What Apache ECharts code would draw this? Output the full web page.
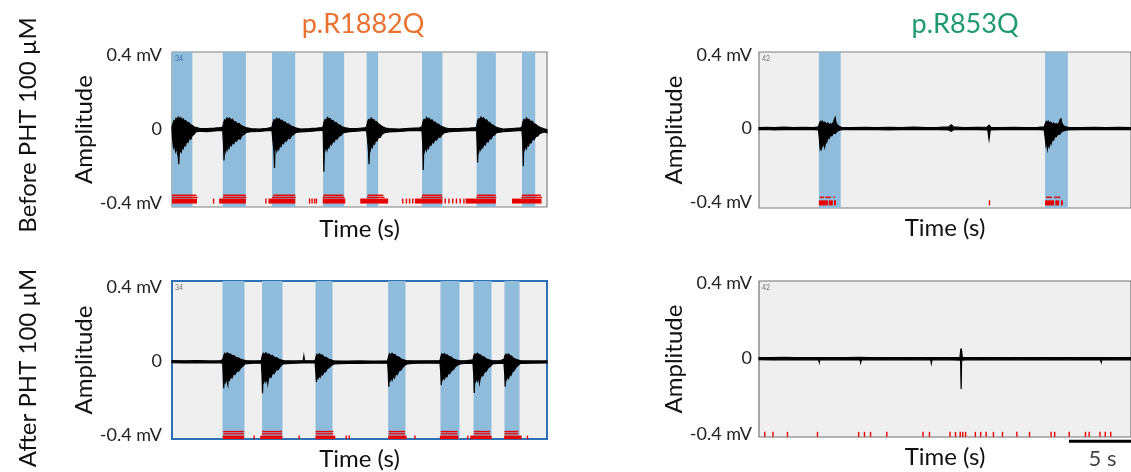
<!DOCTYPE html>
<html><head><meta charset="utf-8">
<script src="https://cdn.jsdelivr.net/npm/echarts@6/dist/echarts.min.js"></script>
<style>html,body{margin:0;padding:0;background:#fff}#c{width:1131px;height:472px}</style>
</head><body><div id="c"></div>
<script>
// ---------------- DATA ----------------
const colTitles = ['p.R1882Q', 'p.R853Q'];
const rowLabels = ['Before PHT 100 µM', 'After PHT 100 µM'];
const channelIds = ['34', '42', '34', '42'];
const yTickValues = [-0.4, 0, 0.4];
const scaleBarSeconds = [25, 30];
const scaleBarLabel = '5 s';

// burst (blue) intervals, seconds
const tlBands = [[0,1.63],[4.06,5.91],[8.0,9.86],[12.09,13.77],[15.57,16.49],[20.0,21.63],[24.37,25.91],[28.0,29.06]];
const trBands = [[4.83,6.59],[23.07,24.91]];
const blBands = [[4.04,5.8],[7.2,8.84],[11.48,12.84],[17.29,18.68],[21.48,23.0],[24.12,25.56],[26.6,27.8]];
const brBands = [];

// trace envelopes [time s, mV]
const tlUpper = [
[0,0.012],[0.08,0.03],[0.16,0.045],[0.24,0.04],[0.32,0.058],[0.4,0.05],[0.5,0.065],[0.6,0.055],[0.7,0.062],[0.8,0.05],[0.9,0.055],[1.0,0.042],[1.1,0.046],[1.22,0.034],[1.34,0.036],[1.46,0.024],[1.6,0.02],[1.8,0.01],[2.2,0.004],[2.8,0.003],[3.4,0.005],[3.9,0.008],
[4.06,0.01],[4.14,0.035],[4.22,0.05],[4.3,0.045],[4.4,0.06],[4.5,0.052],[4.6,0.06],[4.72,0.048],[4.84,0.052],[4.96,0.038],[5.08,0.04],[5.22,0.028],[5.36,0.03],[5.5,0.02],[5.7,0.014],[5.9,0.008],[6.3,0.002],[7.0,0.0],[7.6,0.004],[7.95,0.008],
[8.0,0.012],[8.08,0.035],[8.16,0.05],[8.26,0.044],[8.36,0.058],[8.46,0.05],[8.56,0.056],[8.68,0.045],[8.8,0.048],[8.92,0.036],[9.04,0.038],[9.18,0.026],[9.32,0.028],[9.48,0.018],[9.7,0.012],[9.9,0.006],[10.3,0.0],[11.0,0.002],[11.6,0.005],[12.0,0.008],
[12.09,0.012],[12.17,0.04],[12.25,0.052],[12.35,0.046],[12.45,0.062],[12.55,0.052],[12.65,0.056],[12.77,0.044],[12.89,0.046],[13.01,0.034],[13.13,0.036],[13.27,0.024],[13.42,0.022],[13.6,0.012],[13.8,0.008],[14.2,0.002],[14.8,0.003],[15.4,0.006],
[15.57,0.012],[15.65,0.04],[15.73,0.052],[15.83,0.046],[15.93,0.06],[16.03,0.05],[16.13,0.052],[16.25,0.04],[16.37,0.04],[16.5,0.028],[16.65,0.022],[16.85,0.012],[17.1,0.005],[17.4,0.002],[18.2,0.0],[19.0,0.004],[19.8,0.007],
[20.0,0.012],[20.08,0.04],[20.16,0.052],[20.26,0.046],[20.36,0.062],[20.46,0.052],[20.56,0.058],[20.68,0.046],[20.8,0.05],[20.92,0.036],[21.04,0.038],[21.18,0.026],[21.32,0.026],[21.48,0.016],[21.65,0.012],[21.85,0.006],[22.1,0.002],[23.0,0.002],[23.8,0.005],[24.3,0.008],
[24.37,0.012],[24.45,0.045],[24.53,0.056],[24.63,0.05],[24.73,0.065],[24.83,0.055],[24.93,0.06],[25.05,0.047],[25.17,0.05],[25.29,0.036],[25.41,0.036],[25.55,0.024],[25.7,0.02],[25.9,0.01],[26.1,0.006],[26.5,0.0],[27.2,0.003],[27.9,0.007],
[28.0,0.012],[28.08,0.04],[28.16,0.052],[28.26,0.046],[28.36,0.06],[28.46,0.05],[28.56,0.052],[28.68,0.04],[28.8,0.042],[28.94,0.03],[29.08,0.026],[29.25,0.016],[29.45,0.01],[29.7,0.003],[30,-0.004]];
const tlLower = [
[0,-0.008],[0.06,-0.06],[0.12,-0.1],[0.2,-0.085],[0.28,-0.12],[0.36,-0.1],[0.44,-0.13],[0.5,-0.15],[0.54,-0.19],[0.58,-0.13],[0.66,-0.115],[0.74,-0.125],[0.82,-0.095],[0.9,-0.105],[1.0,-0.08],[1.08,-0.09],[1.18,-0.065],[1.28,-0.072],[1.38,-0.05],[1.5,-0.055],[1.62,-0.035],[1.75,-0.03],[1.9,-0.016],[2.2,-0.012],[2.8,-0.014],[3.4,-0.01],[3.9,-0.007],
[4.06,-0.01],[4.12,-0.08],[4.16,-0.17],[4.2,-0.1],[4.26,-0.12],[4.32,-0.095],[4.4,-0.115],[4.48,-0.09],[4.56,-0.105],[4.65,-0.08],[4.75,-0.09],[4.85,-0.07],[4.95,-0.078],[5.05,-0.06],[5.15,-0.066],[5.3,-0.05],[5.45,-0.055],[5.6,-0.035],[5.75,-0.03],[5.95,-0.018],[6.3,-0.014],[7.0,-0.013],[7.6,-0.009],[7.95,-0.007],
[8.0,-0.01],[8.08,-0.07],[8.16,-0.12],[8.2,-0.21],[8.24,-0.11],[8.3,-0.1],[8.38,-0.12],[8.46,-0.095],[8.54,-0.11],[8.62,-0.085],[8.72,-0.095],[8.82,-0.072],[8.92,-0.08],[9.02,-0.06],[9.14,-0.066],[9.28,-0.048],[9.42,-0.052],[9.58,-0.035],[9.74,-0.03],[9.9,-0.018],[10.3,-0.015],[11.0,-0.013],[11.6,-0.009],[12.0,-0.007],
[12.09,-0.01],[12.11,-0.06],[12.15,-0.23],[12.19,-0.09],[12.25,-0.11],[12.32,-0.09],[12.4,-0.115],[12.48,-0.088],[12.56,-0.1],[12.66,-0.075],[12.76,-0.085],[12.86,-0.065],[12.96,-0.07],[13.08,-0.05],[13.2,-0.055],[13.35,-0.038],[13.5,-0.035],[13.7,-0.02],[14.2,-0.014],[14.8,-0.012],[15.4,-0.008],
[15.57,-0.01],[15.65,-0.06],[15.72,-0.12],[15.76,-0.19],[15.8,-0.1],[15.86,-0.115],[15.94,-0.09],[16.02,-0.1],[16.1,-0.075],[16.2,-0.082],[16.3,-0.06],[16.4,-0.065],[16.52,-0.045],[16.65,-0.045],[16.8,-0.028],[17.0,-0.02],[17.4,-0.015],[18.2,-0.013],[19.0,-0.009],[19.8,-0.007],
[20.0,-0.01],[20.06,-0.08],[20.1,-0.22],[20.14,-0.1],[20.2,-0.12],[20.28,-0.095],[20.36,-0.115],[20.44,-0.09],[20.52,-0.105],[20.62,-0.08],[20.72,-0.088],[20.82,-0.068],[20.92,-0.075],[21.04,-0.055],[21.16,-0.06],[21.3,-0.043],[21.45,-0.045],[21.6,-0.03],[21.8,-0.02],[22.2,-0.014],[23.0,-0.012],[23.8,-0.009],[24.3,-0.007],
[24.37,-0.01],[24.41,-0.08],[24.45,-0.18],[24.49,-0.1],[24.55,-0.12],[24.62,-0.095],[24.7,-0.112],[24.78,-0.09],[24.86,-0.1],[24.96,-0.078],[25.06,-0.086],[25.16,-0.065],[25.28,-0.07],[25.4,-0.05],[25.52,-0.054],[25.66,-0.036],[25.8,-0.032],[25.95,-0.02],[26.5,-0.014],[27.2,-0.011],[27.9,-0.007],
[28.0,-0.01],[28.06,-0.07],[28.1,-0.2],[28.14,-0.09],[28.2,-0.11],[28.28,-0.09],[28.36,-0.105],[28.44,-0.08],[28.52,-0.09],[28.62,-0.07],[28.72,-0.075],[28.84,-0.055],[28.96,-0.058],[29.1,-0.04],[29.25,-0.038],[29.4,-0.025],[29.6,-0.02],[29.8,-0.016],[30,-0.02]];

const trUpper = [[0,0.005],[0.6,0.006],[1.2,0.004],[2.0,0.007],[2.8,0.005],[3.6,0.006],[4.4,0.005],
[4.8,0.008],[4.86,0.025],[4.94,0.038],[5.02,0.03],[5.1,0.04],[5.2,0.028],[5.3,0.034],[5.42,0.024],[5.54,0.03],[5.66,0.02],[5.78,0.026],[5.9,0.02],[6.0,0.035],[6.08,0.05],[6.14,0.06],[6.2,0.035],[6.3,0.02],[6.45,0.012],[6.65,0.006],
[7.5,0.005],[8.5,0.006],[9.5,0.004],[10.5,0.006],[11.5,0.005],[12.5,0.007],[13.5,0.005],[14.5,0.006],[15.3,0.008],[15.5,0.02],[15.7,0.008],[16.5,0.005],[17.5,0.006],[18.4,0.007],[18.55,0.018],[18.7,0.006],[19.5,0.005],[20.5,0.006],[21.5,0.005],[22.5,0.006],
[23.0,0.008],[23.08,0.025],[23.16,0.038],[23.24,0.03],[23.32,0.04],[23.42,0.028],[23.52,0.034],[23.64,0.024],[23.76,0.03],[23.88,0.022],[24.0,0.026],[24.12,0.02],[24.22,0.035],[24.3,0.05],[24.36,0.052],[24.42,0.03],[24.55,0.015],[24.75,0.008],[24.95,0.006],
[26,0.005],[27,0.006],[28,0.004],[29,0.006],[30,0.005]];
const trLower = [[0,-0.006],[0.6,-0.005],[1.2,-0.008],[2.0,-0.006],[2.8,-0.007],[3.6,-0.005],[4.4,-0.006],
[4.8,-0.008],[4.86,-0.05],[4.92,-0.1],[4.97,-0.075],[5.02,-0.12],[5.08,-0.085],[5.15,-0.095],[5.22,-0.07],[5.3,-0.1],[5.38,-0.065],[5.46,-0.075],[5.55,-0.05],[5.65,-0.055],[5.76,-0.038],[5.88,-0.04],[6.0,-0.025],[6.15,-0.028],[6.3,-0.015],[6.5,-0.01],[6.7,-0.007],
[7.5,-0.006],[8.5,-0.007],[9.5,-0.006],[10.5,-0.008],[11.5,-0.006],[12.5,-0.005],[13.5,-0.007],[14.5,-0.006],[15.3,-0.008],[15.5,-0.015],[15.7,-0.007],[16.5,-0.006],[17.5,-0.007],[18.45,-0.008],[18.55,-0.06],[18.65,-0.008],[19.5,-0.006],[20.5,-0.007],[21.5,-0.006],[22.5,-0.007],
[23.0,-0.008],[23.08,-0.05],[23.14,-0.09],[23.2,-0.07],[23.26,-0.11],[23.32,-0.08],[23.4,-0.1],[23.48,-0.07],[23.56,-0.085],[23.65,-0.06],[23.75,-0.065],[23.86,-0.045],[23.98,-0.045],[24.1,-0.03],[24.25,-0.032],[24.4,-0.018],[24.6,-0.012],[24.85,-0.008],
[26,-0.006],[27,-0.007],[28,-0.006],[29,-0.007],[30,-0.006]];

const blUpper = [[0,0.006],[1.0,0.005],[2.0,0.006],[3.0,0.004],[3.8,0.005],
[4.06,0.01],[4.14,0.032],[4.22,0.045],[4.32,0.038],[4.42,0.048],[4.54,0.04],[4.66,0.042],[4.8,0.032],[4.94,0.034],[5.1,0.024],[5.26,0.022],[5.45,0.014],[5.65,0.01],[5.9,0.006],[6.5,0.004],
[7.15,0.006],[7.22,0.032],[7.3,0.045],[7.4,0.038],[7.5,0.048],[7.62,0.04],[7.74,0.042],[7.88,0.032],[8.02,0.034],[8.18,0.024],[8.34,0.022],[8.52,0.014],[8.7,0.01],[8.95,0.005],
[9.8,0.004],[10.5,0.006],[10.55,0.03],[10.6,0.006],
[11.45,0.005],[11.52,0.025],[11.6,0.04],[11.7,0.034],[11.8,0.042],[11.92,0.035],[12.04,0.035],[12.18,0.025],[12.32,0.024],[12.5,0.014],[12.7,0.01],[12.95,0.005],
[14,0.003],[15,0.004],[16,0.003],
[17.25,0.005],[17.32,0.027],[17.4,0.042],[17.5,0.036],[17.6,0.046],[17.72,0.038],[17.84,0.038],[17.98,0.027],[18.12,0.026],[18.3,0.016],[18.5,0.01],[18.75,0.006],
[19.5,0.004],[20.5,0.005],
[21.44,0.006],[21.5,0.024],[21.58,0.042],[21.68,0.036],[21.78,0.044],[21.9,0.036],[22.02,0.037],[22.16,0.027],[22.3,0.026],[22.48,0.016],[22.7,0.01],[23.0,0.005],
[23.6,0.006],
[24.08,0.01],[24.15,0.032],[24.23,0.042],[24.33,0.036],[24.43,0.046],[24.55,0.038],[24.67,0.037],[24.81,0.027],[24.95,0.026],[25.12,0.016],[25.35,0.01],[25.6,0.006],
[26.2,0.005],
[26.56,0.012],[26.63,0.032],[26.71,0.04],[26.81,0.034],[26.91,0.042],[27.03,0.033],[27.15,0.03],[27.3,0.02],[27.5,0.012],[27.9,0.005],
[28.8,0.004],[30,0.004]];
const blLower = [[0,-0.006],[1.0,-0.007],[2.0,-0.005],[3.0,-0.007],[3.8,-0.006],
[4.06,-0.01],[4.1,-0.08],[4.14,-0.143],[4.18,-0.095],[4.25,-0.112],[4.33,-0.09],[4.41,-0.108],[4.47,-0.125],[4.5,-0.085],[4.6,-0.1],[4.7,-0.078],[4.8,-0.088],[4.92,-0.064],[5.04,-0.07],[5.18,-0.05],[5.32,-0.052],[5.48,-0.035],[5.65,-0.025],[5.85,-0.012],[6.5,-0.008],
[7.15,-0.008],[7.2,-0.07],[7.24,-0.17],[7.28,-0.105],[7.34,-0.112],[7.42,-0.092],[7.5,-0.11],[7.6,-0.088],[7.66,-0.12],[7.7,-0.1],[7.8,-0.078],[7.92,-0.085],[8.04,-0.062],[8.17,-0.065],[8.32,-0.045],[8.48,-0.044],[8.65,-0.027],[8.88,-0.012],
[9.8,-0.008],[10.5,-0.007],
[11.45,-0.007],[11.5,-0.05],[11.55,-0.11],[11.6,-0.075],[11.68,-0.09],[11.76,-0.074],[11.85,-0.085],[11.95,-0.066],[12.05,-0.072],[12.16,-0.054],[12.28,-0.055],[12.42,-0.038],[12.58,-0.032],[12.75,-0.02],[12.95,-0.012],
[14,-0.01],[15,-0.009],[16,-0.008],
[17.25,-0.008],[17.3,-0.06],[17.34,-0.135],[17.38,-0.09],[17.45,-0.102],[17.53,-0.082],[17.61,-0.1],[17.7,-0.077],[17.8,-0.088],[17.9,-0.066],[18.02,-0.07],[18.15,-0.05],[18.3,-0.046],[18.46,-0.03],[18.62,-0.02],[18.8,-0.012],
[19.5,-0.008],[20.5,-0.007],
[21.44,-0.008],[21.5,-0.06],[21.54,-0.127],[21.58,-0.085],[21.65,-0.097],[21.73,-0.08],[21.81,-0.093],[21.9,-0.073],[22.0,-0.082],[22.1,-0.062],[22.22,-0.065],[22.36,-0.047],[22.5,-0.044],[22.66,-0.028],[22.85,-0.018],[23.05,-0.012],
[23.6,-0.008],
[24.08,-0.01],[24.14,-0.07],[24.18,-0.169],[24.22,-0.1],[24.29,-0.108],[24.37,-0.088],[24.45,-0.105],[24.54,-0.082],[24.6,-0.115],[24.64,-0.096],[24.74,-0.074],[24.86,-0.077],[24.99,-0.056],[25.13,-0.053],[25.28,-0.035],[25.45,-0.026],[25.65,-0.012],
[26.2,-0.008],
[26.56,-0.01],[26.62,-0.07],[26.66,-0.135],[26.7,-0.085],[26.77,-0.097],[26.85,-0.077],[26.93,-0.09],[27.02,-0.068],[27.12,-0.074],[27.23,-0.054],[27.35,-0.05],[27.5,-0.032],[27.65,-0.023],[27.85,-0.01],
[28.8,-0.008],[30,-0.007]];

const brUpper = [[0,0.006],[1,0.005],[2,0.007],[3,0.005],[4,0.006],[5,0.005],[6,0.006],[7,0.005],[8,0.007],[9,0.005],[10,0.006],[11,0.005],[12,0.006],[13,0.005],[14,0.006],[15,0.005],[16.2,0.006],[16.28,0.05],[16.32,0.05],[16.4,0.006],[17,0.005],[18,0.006],[19,0.005],[20,0.006],[21,0.005],[22,0.006],[23,0.005],[24,0.006],[25,0.005],[26,0.006],[27,0.005],[28,0.006],[29,0.005],[30,0.006]];
const brLower = [[0,-0.006],[1,-0.007],[2,-0.006],[3,-0.007],[4,-0.006],[4.82,-0.007],[4.86,-0.02],[4.9,-0.007],[6,-0.006],[7,-0.007],[8.15,-0.007],[8.2,-0.022],[8.25,-0.007],[9,-0.006],[10,-0.007],[11,-0.006],[12,-0.007],[13,-0.006],[13.85,-0.007],[13.9,-0.025],[13.95,-0.007],[15,-0.006],[16.26,-0.008],[16.3,-0.16],[16.34,-0.008],[17,-0.006],[18,-0.007],[19,-0.006],[20,-0.007],[21,-0.006],[22,-0.007],[23,-0.006],[24,-0.007],[25,-0.006],[26,-0.007],[27.55,-0.007],[27.6,-0.02],[27.65,-0.007],[29,-0.006],[30,-0.007]];

// spike raster segments [start s, end s]
const tlRasterThick = [[0,2.0],[3.27,3.33],[3.77,5.91],[7.46,7.52],[7.72,9.86],[10.95,11.0],[11.15,11.2],[11.35,11.4],[11.5,11.55],[12.06,13.86],[15.06,17.29],[18.4,18.45],[18.7,18.75],[18.95,19.0],[19.2,19.25],[19.43,21.63],[21.8,21.85],[22.1,22.15],[22.4,22.45],[22.7,22.75],[23.0,23.05],[23.3,23.35],[23.5,25.91],[27.2,29.56]];
const tlRasterThinA = [[0,1.95],[4.1,5.9],[8.1,9.85],[12.1,13.7],[15.65,16.9],[20.0,21.6],[24.4,25.9],[28.0,29.5]];
const tlRasterThinB = [[0,2.05],[4.06,5.95],[8.0,9.9],[12.05,13.8],[15.6,17.0],[19.95,21.65],[24.35,25.95],[27.95,29.6]];
const trRasterThick = [[4.83,5.55],[5.62,5.95],[6.05,6.2],[18.53,18.58],[23.07,23.8],[23.9,24.2],[24.35,24.5]];
const trRasterThin = [[4.9,5.25],[5.35,5.8],[6.0,6.1],[23.15,23.6],[23.8,24.3]];
const blRasterThick = [[4.06,5.77],[6.52,6.56],[7.06,8.83],[10.12,10.16],[11.48,13.06],[13.88,13.92],[14.12,14.16],[17.29,18.77],[19.38,19.42],[21.43,22.91],[23.61,23.65],[23.86,25.57],[26.57,27.97],[28.38,28.42]];
const blRasterThin = [[4.1,5.75],[7.2,8.8],[11.5,12.9],[17.35,18.65],[21.5,22.85],[24.15,25.45],[26.6,27.7]];
const brRasterTicks = [0.41,1.07,2.24,4.66,7.98,8.45,8.94,10.25,13.17,13.69,15.35,15.79,16.17,16.37,16.6,17.39,17.82,18.26,18.85,19.58,20.74,21.76,23.5,23.79,24.96,26.27,26.57,27.44,27.87,28.31];

// ---------------- CHART ----------------
const FONT = 'Lato, "Open Sans", sans-serif';
const grids = [
  {left:172, top:52, width:375, height:155},
  {left:759, top:52, width:375, height:156},
  {left:172, top:281, width:375, height:158},
  {left:759, top:281, width:375, height:156}
];
const yRanges = [[-0.42,0.415],[-0.433,0.416],[-0.418,0.436],[-0.414,0.41]];
const borderColors = ['#808080','#808080','#2f6fb3','#707070'];
const borderWidths = [1.2, 1.2, 2, 1.2];
const BAND = '#8fbcdb', RED = '#e60000';

function fmt(v){ return Math.abs(v) < 1e-9 ? '0' : v.toFixed(1) + ' mV'; }

function bandSeries(gi, bands){
  const yr = yRanges[gi];
  return {type:'custom', xAxisIndex:gi, yAxisIndex:gi, data:bands, z:1, silent:true,
    renderItem:function(p, api){
      const a = api.coord([api.value(0), yr[1]]), b = api.coord([api.value(1), yr[0]]);
      return {type:'rect', shape:{x:a[0], y:a[1], width:b[0]-a[0], height:b[1]-a[1]}, style:{fill:BAND}};
    }};
}
function envSeries(gi, upper, lower){
  return {type:'custom', xAxisIndex:gi, yAxisIndex:gi, data:[[0,0]], z:3, silent:true,
    renderItem:function(p, api){
      const pts = [];
      upper.forEach(q => pts.push(api.coord(q)));
      for (let i = lower.length-1; i >= 0; i--) pts.push(api.coord(lower[i]));
      return {type:'polygon', shape:{points:pts}, style:{fill:'#000', stroke:'#000', lineWidth:1.2}};
    }};
}
function rasterSeries(gi, segs, yVal, px){
  return {type:'custom', xAxisIndex:gi, yAxisIndex:gi, data:segs, z:4, silent:true,
    renderItem:function(p, api){
      const a = api.coord([api.value(0), yVal]), b = api.coord([api.value(1), yVal]);
      return {type:'rect', shape:{x:a[0], y:a[1]-px/2, width:Math.max(b[0]-a[0],1.4), height:px}, style:{fill:RED}};
    }};
}

const xAxes = grids.map((g,i)=>({gridIndex:i, type:'value', min:0, max:30,
  axisLine:{show:false}, axisTick:{show:false}, axisLabel:{show:false}, splitLine:{show:false},
  name:'Time (s)', nameLocation:'middle', nameGap:(i===0? 10:8),
  nameTextStyle:{fontSize:24, color:'#111', fontFamily:FONT}}));
const yAxes = grids.map((g,i)=>({gridIndex:i, type:'value', min:yRanges[i][0], max:yRanges[i][1],
  axisLine:{show:false}, axisTick:{show:false}, splitLine:{show:false},
  axisLabel:{customValues:yTickValues, formatter:fmt, fontSize:18, color:'#222', margin:(i%2? 7:10), fontFamily:FONT},
  name:'Amplitude', nameLocation:'middle', nameGap:(i%2? 63:55),
  nameTextStyle:{fontSize:24, color:'#111', fontFamily:FONT}}));

const series = [
  bandSeries(0, tlBands), bandSeries(1, trBands), bandSeries(2, blBands), bandSeries(3, brBands),
  envSeries(0, tlUpper, tlLower), envSeries(1, trUpper, trLower), envSeries(2, blUpper, blLower), envSeries(3, brUpper, brLower),
  rasterSeries(0, tlRasterThick, -0.388, 5), rasterSeries(0, tlRasterThinA, -0.357, 1.5), rasterSeries(0, tlRasterThinB, -0.368, 1.3),
  rasterSeries(1, trRasterThick, -0.405, 5), rasterSeries(1, trRasterThin, -0.375, 1.5),
  rasterSeries(2, blRasterThick, -0.409, 3.5), rasterSeries(2, blRasterThin, -0.378, 1.5), rasterSeries(2, blRasterThin, -0.39, 1.3),
  rasterSeries(3, brRasterTicks.map(t=>[t,t]), -0.4, 5),
  {type:'line', xAxisIndex:3, yAxisIndex:3, clip:false, silent:true, symbol:'none', z:6,
   lineStyle:{color:'#000', width:3}, data:scaleBarSeconds.map(t=>[t,-0.437])},
  {type:'scatter', xAxisIndex:3, yAxisIndex:3, clip:false, silent:true, symbolSize:0, z:6,
   data:[[(scaleBarSeconds[0]+scaleBarSeconds[1])/2 + 0.2, -0.53]],
   label:{show:true, position:'inside', formatter:scaleBarLabel, fontSize:22, color:'#111', fontFamily:FONT}}
];

const titles = [
  {text:colTitles[0], left:358, top:6, textAlign:'center', textStyle:{fontSize:27, fontWeight:'normal', color:'#ea7230', fontFamily:FONT}},
  {text:colTitles[1], left:960, top:6, textAlign:'center', textStyle:{fontSize:27, fontWeight:'normal', color:'#1f9a6f', fontFamily:FONT}}
];

const graphic = [
  {type:'text', x:28, y:125, rotation:Math.PI/2, style:{text:rowLabels[0], fontSize:24, fill:'#111', fontFamily:FONT, align:'center', verticalAlign:'middle'}},
  {type:'text', x:28, y:368, rotation:Math.PI/2, style:{text:rowLabels[1], fontSize:24, fill:'#111', fontFamily:FONT, align:'center', verticalAlign:'middle'}}
].concat(grids.map((g,i)=>({type:'text', x:g.left+3, y:g.top+3, z:10,
  style:{text:channelIds[i], fontSize:7, fill:(i===0? '#3d6fa8':'#777'), fontFamily:FONT}})));

const chart = echarts.init(document.getElementById('c'));
chart.setOption({
  animation:false,
  title:titles,
  grid:grids.map((g,i)=>Object.assign({show:true, backgroundColor:'#efefef', borderColor:borderColors[i], borderWidth:borderWidths[i]}, g)),
  xAxis:xAxes, yAxis:yAxes, series:series, graphic:graphic
});
</script></body></html>
